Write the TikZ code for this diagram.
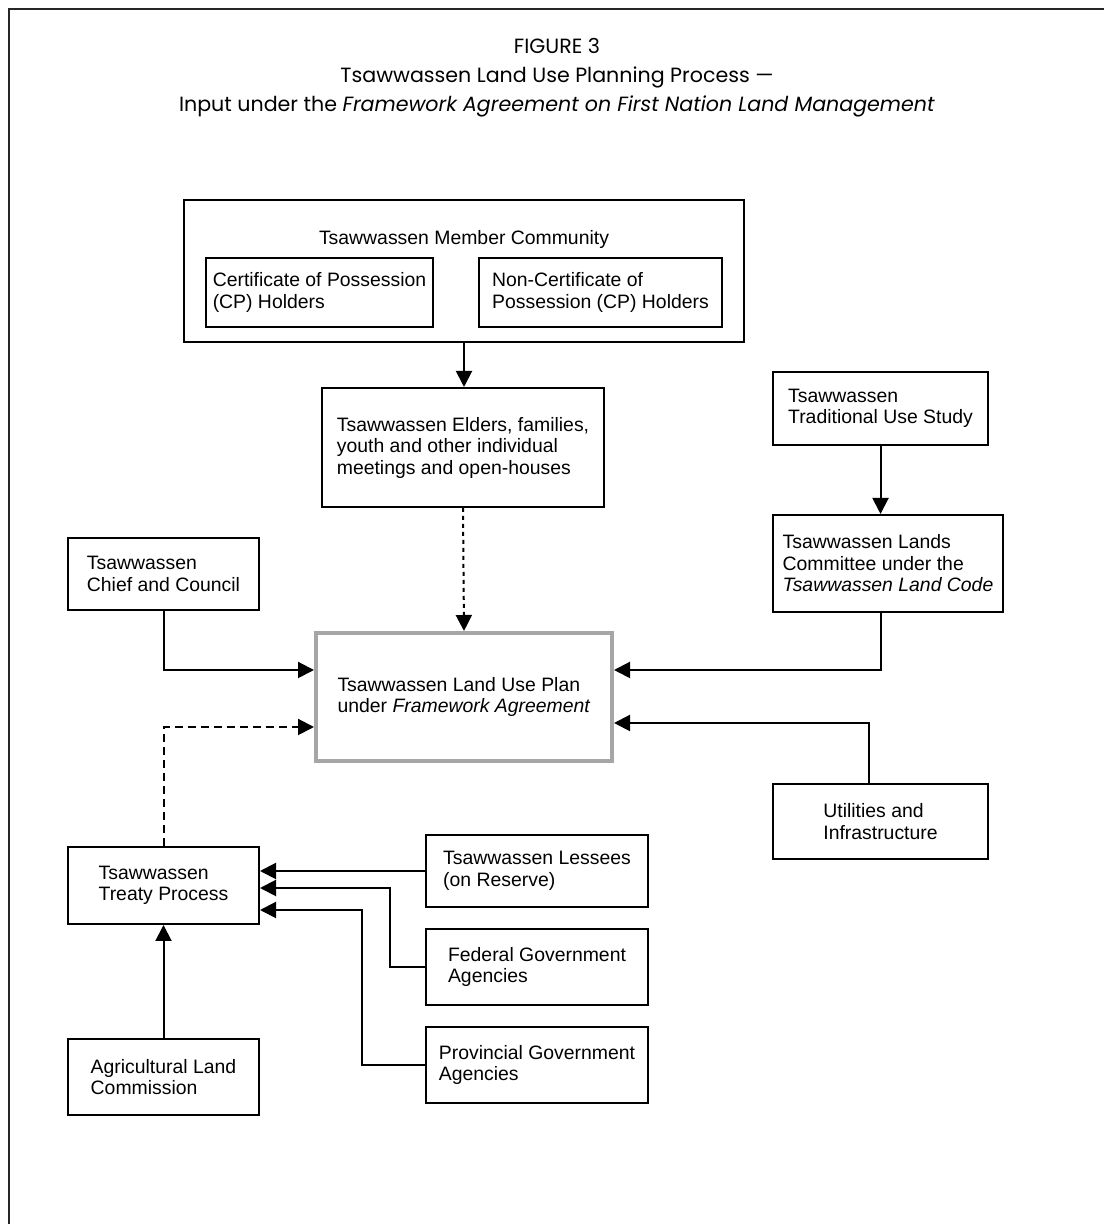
\documentclass[tikz,border=0pt]{standalone}
\usepackage{fontspec}
\setmainfont{Liberation Sans}
\newfontfamily\titlefont{Poppins}
\usetikzlibrary{arrows.meta}

\begin{document}
\begin{tikzpicture}[x=0.5pt, y=0.5pt, line width=1pt, >={Triangle[length=8pt, width=8pt]},
    box/.style={draw, align=left, inner sep=0pt, font=\fontsize{9.7}{10.75}\selectfont},
    planbox/.style={box, draw=black!35, line width=2pt},
    label/.style={align=left, inner sep=0pt, font=\fontsize{9.7}{10.75}\selectfont}]
    \useasboundingbox (0,0) rectangle (1104,1224);
    % Frame
    \draw[black!85] (1104,1215) -- (9,1215) -- (9,0);

    % Title
    \node[align=center, font=\titlefont\fontsize{10.3}{14.5}\selectfont] (title) at (557,1146)
        {FIGURE 3\\ Tsawwassen Land Use Planning Process —\\ Input under the \textit{Framework Agreement on First Nation Land Management}};

    % Community and its two groups
    \node[box, minimum width=280pt, minimum height=71pt] (comm) at (464,953) {};
    \node[label] (commtitle) at (464,984) {Tsawwassen Member Community};
    \node[box, minimum width=113.5pt, minimum height=34.5pt] (cp) at (319.5,931.5)
        {Certificate of Possession\\ (CP) Holders};
    \node[box, minimum width=121.5pt, minimum height=34.5pt] (noncp) at (600.5,931.5)
        {Non-Certificate of\\ Possession (CP) Holders};

    \node[box, minimum width=141pt, minimum height=59.5pt] (elders) at (463,776.5)
        {Tsawwassen Elders, families,\\ youth and other individual\\ meetings and open-houses};

    % The plan
    \node[planbox, minimum width=148pt, minimum height=64pt] (lup) at (464,527)
        {Tsawwassen Land Use Plan\\ under \textit{Framework Agreement}};

    \node[box, minimum width=95.5pt, minimum height=36pt] (chief) at (163.5,650)
        {Tsawwassen\\ Chief and Council};
    \node[box, minimum width=107.5pt, minimum height=36.5pt] (tus) at (880.5,815.5)
        {Tsawwassen\\ Traditional Use Study};
    \node[box, minimum width=115pt, minimum height=48.5pt] (lands) at (888,660.5)
        {Tsawwassen Lands\\ Committee under the\\ \textit{Tsawwassen Land Code}};
    \node[box, minimum width=107.5pt, minimum height=37.5pt] (util) at (880.5,402.5)
        {Utilities and\\ Infrastructure};

    % Treaty side
    \node[box, minimum width=95.5pt, minimum height=38.5pt] (treaty) at (163.5,338.5)
        {Tsawwassen\\ Treaty Process};
    \node[box, minimum width=111pt, minimum height=36pt] (lessees) at (537,353)
        {Tsawwassen Lessees\\ (on Reserve)};
    \node[box, minimum width=111pt, minimum height=38pt] (federal) at (537,257)
        {Federal Government\\ Agencies};
    \node[box, minimum width=111pt, minimum height=38pt] (prov) at (537,159)
        {Provincial Government\\ Agencies};
    \node[box, minimum width=95.5pt, minimum height=38pt] (agri) at (163.5,147)
        {Agricultural Land\\ Commission};

    % Connectors
    \draw[->] (comm.south) -- (comm.south |- elders.north);
    \draw[->, dash pattern=on 2pt off 2pt] (elders.south) -- (lup.north);
    \draw[->] (chief.south) |- ([yshift=13.5pt]lup.west);
    \draw[->, dash pattern=on 4pt off 2.5pt] (treaty.north) |- ([yshift=-15pt]lup.west);
    \draw[->] (tus.south) -- (tus.south |- lands.north);
    \draw[->] (tus.south |- lands.south) |- ([yshift=13.5pt]lup.east);
    \draw[->] ([xshift=-5.75pt]util.north) |- ([yshift=-13pt]lup.east);
    \draw[->] (lessees.west) -- (lessees.west -| treaty.east);
    \draw[->] (federal.west) -- ++(-17.5pt,0) |- ([yshift=-1.25pt]treaty.east);
    \draw[->] (prov.west) -- ++(-31.5pt,0) |- ([yshift=-12.25pt]treaty.east);
    \draw[->] (agri.north) -- (treaty.south);

\end{tikzpicture}
\end{document}
